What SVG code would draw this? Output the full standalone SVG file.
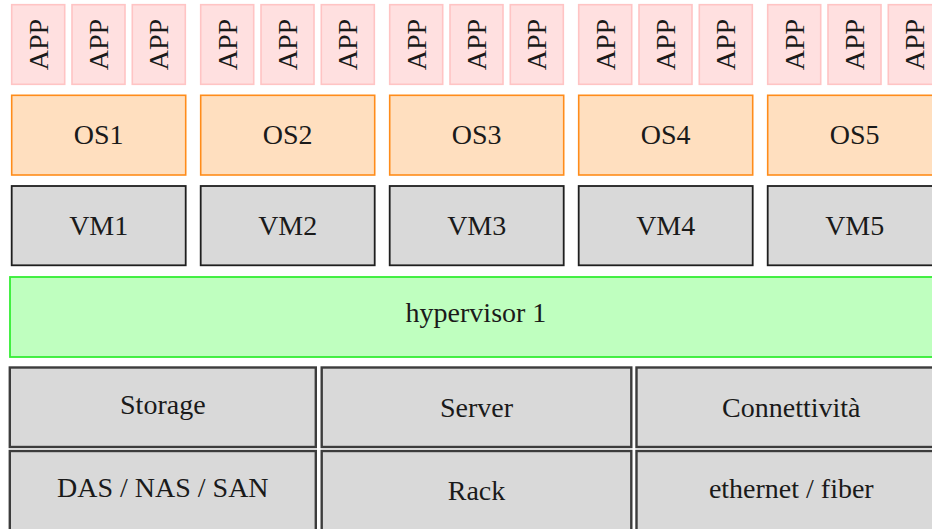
<svg xmlns="http://www.w3.org/2000/svg" width="932" height="529" viewBox="0 0 932 529">
<style>
text{font-family:"Liberation Serif","Times New Roman",serif;font-size:28px;fill:#1a1a1a;text-anchor:middle}
.app{fill:#ffe0e0;stroke:#ffc4c4;stroke-width:1.6}
.os{fill:#ffdfbf;stroke:#ff8c1a;stroke-width:1.6}
.vm{fill:#d9d9d9;stroke:#1f1f1f;stroke-width:1.8}
.hv{fill:#bfffbf;stroke:#33ee33;stroke-width:1.8}
.hw{fill:#d9d9d9;stroke:#3c3c3c;stroke-width:2.4}
</style>
<g id="apps1">
<rect class="app" x="11.7" y="4.7" width="53" height="79.6"/><rect class="app" x="72" y="4.7" width="53" height="79.6"/><rect class="app" x="132.3" y="4.7" width="53" height="79.6"/>
<text transform="translate(47.7,44.5) rotate(-90)">APP</text>
<text transform="translate(108,44.5) rotate(-90)">APP</text>
<text transform="translate(168.3,44.5) rotate(-90)">APP</text>
</g>
<g id="apps2">
<rect class="app" x="200.7" y="4.7" width="53" height="79.6"/><rect class="app" x="261" y="4.7" width="53" height="79.6"/><rect class="app" x="321.3" y="4.7" width="53" height="79.6"/>
<text transform="translate(236.7,44.5) rotate(-90)">APP</text>
<text transform="translate(297,44.5) rotate(-90)">APP</text>
<text transform="translate(357.3,44.5) rotate(-90)">APP</text>
</g>
<g id="apps3">
<rect class="app" x="389.7" y="4.7" width="53" height="79.6"/><rect class="app" x="450" y="4.7" width="53" height="79.6"/><rect class="app" x="510.3" y="4.7" width="53" height="79.6"/>
<text transform="translate(425.7,44.5) rotate(-90)">APP</text>
<text transform="translate(486,44.5) rotate(-90)">APP</text>
<text transform="translate(546.3,44.5) rotate(-90)">APP</text>
</g>
<g id="apps4">
<rect class="app" x="578.7" y="4.7" width="53" height="79.6"/><rect class="app" x="639" y="4.7" width="53" height="79.6"/><rect class="app" x="699.3" y="4.7" width="53" height="79.6"/>
<text transform="translate(614.7,44.5) rotate(-90)">APP</text>
<text transform="translate(675,44.5) rotate(-90)">APP</text>
<text transform="translate(735.3,44.5) rotate(-90)">APP</text>
</g>
<g id="apps5">
<rect class="app" x="767.7" y="4.7" width="53" height="79.6"/><rect class="app" x="828" y="4.7" width="53" height="79.6"/><rect class="app" x="888.3" y="4.7" width="53" height="79.6"/>
<text transform="translate(803.7,44.5) rotate(-90)">APP</text>
<text transform="translate(864,44.5) rotate(-90)">APP</text>
<text transform="translate(924.3,44.5) rotate(-90)">APP</text>
</g>
<g id="os1"><rect class="os" x="11.7" y="95.3" width="174" height="79.7"/><text x="98.7" y="144">OS1</text></g>
<g id="os2"><rect class="os" x="200.7" y="95.3" width="174" height="79.7"/><text x="287.7" y="144">OS2</text></g>
<g id="os3"><rect class="os" x="389.7" y="95.3" width="174" height="79.7"/><text x="476.7" y="144">OS3</text></g>
<g id="os4"><rect class="os" x="578.7" y="95.3" width="174" height="79.7"/><text x="665.7" y="144">OS4</text></g>
<g id="os5"><rect class="os" x="767.7" y="95.3" width="174" height="79.7"/><text x="854.7" y="144">OS5</text></g>
<g id="vm1"><rect class="vm" x="11.7" y="186" width="174" height="79.3"/><text x="98.7" y="235">VM1</text></g>
<g id="vm2"><rect class="vm" x="200.7" y="186" width="174" height="79.3"/><text x="287.7" y="235">VM2</text></g>
<g id="vm3"><rect class="vm" x="389.7" y="186" width="174" height="79.3"/><text x="476.7" y="235">VM3</text></g>
<g id="vm4"><rect class="vm" x="578.7" y="186" width="174" height="79.3"/><text x="665.7" y="235">VM4</text></g>
<g id="vm5"><rect class="vm" x="767.7" y="186" width="174" height="79.3"/><text x="854.7" y="235">VM5</text></g>
<g id="hypervisor"><rect class="hv" x="10" y="277" width="960" height="80"/><text x="476" y="322.3">hypervisor 1</text></g>
<g id="storage"><rect class="hw" x="9.8" y="367.5" width="306" height="79.5"/><text x="162.8" y="414">Storage</text></g>
<g id="server"><rect class="hw" x="321.7" y="367.5" width="309.6" height="79.5"/><text x="476.5" y="416.5">Server</text></g>
<g id="connettivita"><rect class="hw" x="636.5" y="367.5" width="309.6" height="79.5"/><text x="791.3" y="417">Connettività</text></g>
<g id="das"><rect class="hw" x="9.8" y="451" width="306" height="90"/><text x="162.8" y="497.3">DAS / NAS / SAN</text></g>
<g id="rack"><rect class="hw" x="321.7" y="451" width="309.6" height="90"/><text x="476.5" y="500">Rack</text></g>
<g id="ethernet"><rect class="hw" x="636.5" y="451" width="309.6" height="90"/><text x="791.3" y="498.3">ethernet / fiber</text></g>
<g id="connectors"/>
</svg>
